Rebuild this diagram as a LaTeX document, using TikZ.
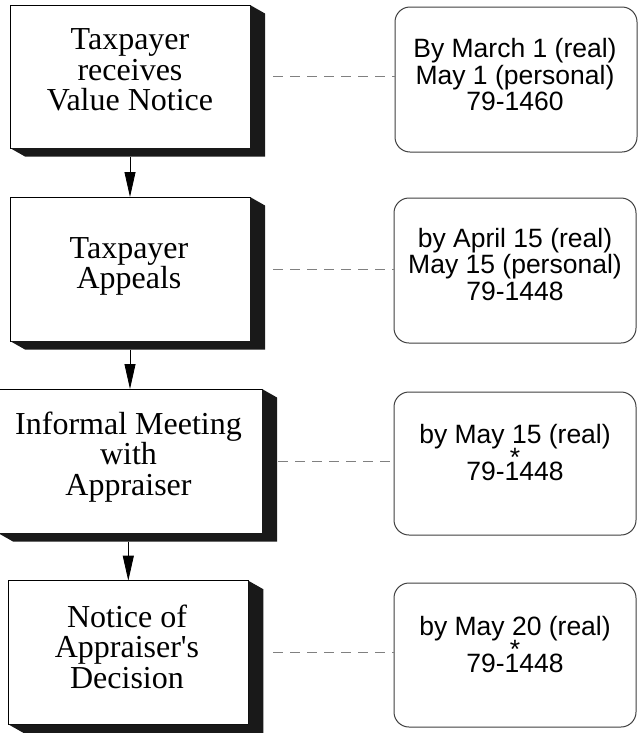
\documentclass[tikz,border=0pt]{standalone}
\usepackage{fontspec}
\setmainfont{Liberation Serif}
\newfontfamily\sansf{Liberation Sans}
\usetikzlibrary{arrows.meta}
\newcommand\extrudebox[1]{%
  \fill[shade3d] (#1.north east) -- ++(15,8.5) -- ([shift={(15,8.5)}]#1.south east)
    -- ([shift={(15,8.5)}]#1.south west) -- (#1.south west) -- (#1.south east) -- cycle;}
\begin{document}
\begin{tikzpicture}[x=1pt,y=-1pt,
  lbox/.style={draw=black, line width=0.9pt, fill=white, inner sep=0pt, outer sep=0pt, anchor=north west},
  rbox/.style={draw=black!75, line width=1pt, rounded corners=15pt, fill=white, inner sep=0pt, outer sep=0pt, anchor=north west, minimum width=242pt},
  shade3d/.style={fill=black!90},
  ltext/.style={font=\fontsize{32}{30.5}\selectfont, align=center, inner sep=0pt, anchor=base},
  rtext/.style={font=\sansf\fontsize{26.5}{26.5}\selectfont, align=center, inner sep=0pt, anchor=base},
  flow/.style={draw=black, line width=0.8pt, -{Triangle[length=25pt,width=11pt]}},
  link/.style={draw=black!50, line width=0.8pt, dash pattern=on 10pt off 7pt},
]
\useasboundingbox (0,0) rectangle (639,734);
\fill[white] (0,0) rectangle (639,734);

% left process boxes
\node[lbox, minimum width=240pt, minimum height=143pt] (L1) at (10,5) {};
\node[lbox, minimum width=240pt, minimum height=144pt] (L2) at (10,197) {};
\node[lbox, minimum width=264pt, minimum height=144pt] (L3) at (-2,389) {};
\node[lbox, minimum width=240pt, minimum height=143.6pt] (L4) at (8.3,580.7) {};
\extrudebox{L1}
\extrudebox{L2}
\extrudebox{L3}
\extrudebox{L4}

% (base anchor = baseline of the last line)
\node[ltext] (T1) at (130,110.5) {Taxpayer\\receives\\Value Notice};
\node[ltext] (T2) at (129,288.5) {Taxpayer\\Appeals};
\node[ltext] (T3) at (128.5,495) {Informal Meeting\\with\\Appraiser};
\node[ltext] (T4) at (127,688) {Notice of\\Appraiser\textquotesingle s\\Decision};

% right deadline boxes
\node[rbox, minimum height=145pt] (R1) at (395,7) {};
\node[rbox, minimum height=145pt] (R2) at (394,198) {};
\node[rbox, minimum height=143pt] (R3) at (394,392) {};
\node[rbox, minimum height=144pt] (R4) at (394,583) {};

\node[rtext] (S1) at (515,110.5) {By March 1 (real)\\May 1 (personal)\\79-1460};
\node[rtext] (S2) at (515,300) {by April 15 (real)\\May 15 (personal)\\79-1448};
\node[rtext] (S3) at (515,480) {by May 15 (real)\\[-4pt]*\\[-12.5pt]79-1448};
\node[rtext] (S4) at (515,672) {by May 20 (real)\\[-4pt]*\\[-12.5pt]79-1448};

% flow arrows
\draw[flow, shorten <=8.5pt] (L1.south) -- (L2.north);
\draw[flow, shorten <=8.5pt] (L2.south) -- (L3.north);
\draw[flow, shorten <=8.5pt] (L3.south -| L4.north) -- (L4.north);

% dashed links
\draw[link, shorten <=23pt] (L1.east) -- (L1.east -| R1.west);
\draw[link, shorten <=23pt] (L2.east) -- (L2.east -| R2.west);
\draw[link, shorten <=16pt] (L3.east) -- (L3.east -| R3.west);
\draw[link, shorten <=25pt] (L4.east) -- (L4.east -| R4.west);
\end{tikzpicture}
\end{document}
